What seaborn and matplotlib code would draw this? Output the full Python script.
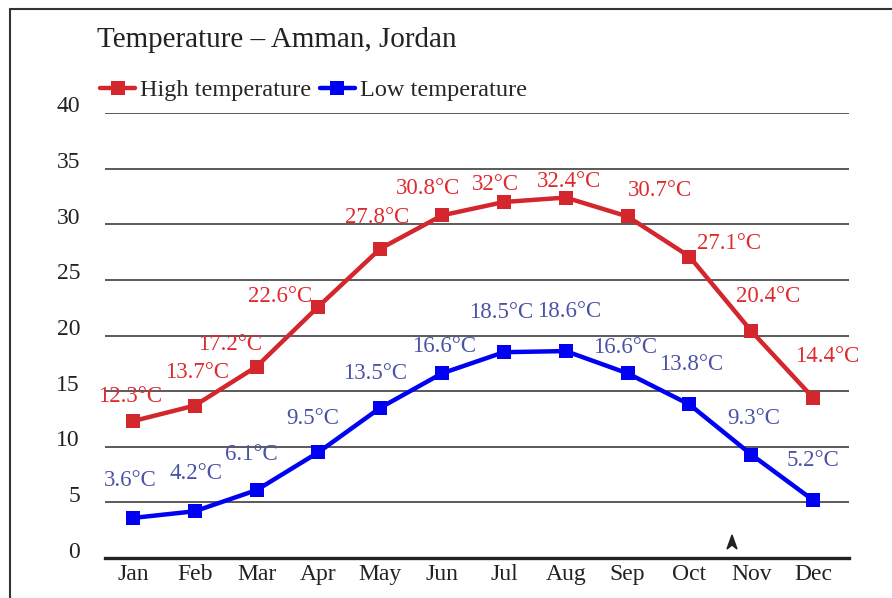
import matplotlib
matplotlib.use("Agg")
import matplotlib.pyplot as plt
import matplotlib.transforms as mtransforms
import seaborn as sns
import pandas as pd
from matplotlib.lines import Line2D
from matplotlib.patches import Polygon

# ---- data ----
months = ["Jan", "Feb", "Mar", "Apr", "May", "Jun", "Jul", "Aug", "Sep", "Oct", "Nov", "Dec"]
high_temp = [12.3, 13.7, 17.2, 22.6, 27.8, 30.8, 32.0, 32.4, 30.7, 27.1, 20.4, 14.4]
low_temp = [3.6, 4.2, 6.1, 9.5, 13.5, 16.6, 18.5, 18.6, 16.6, 13.8, 9.3, 5.2]
high_labels = ["12.3°C", "13.7°C", "17.2°C", "22.6°C", "27.8°C", "30.8°C", "32°C", "32.4°C",
               "30.7°C", "27.1°C", "20.4°C", "14.4°C"]
low_labels = ["3.6°C", "4.2°C", "6.1°C", "9.5°C", "13.5°C", "16.6°C", "18.5°C", "18.6°C",
              "16.6°C", "13.8°C", "9.3°C", "5.2°C"]
series_names = ["High temperature", "Low temperature"]
y_ticks = [0, 5, 10, 15, 20, 25, 30, 35, 40]
title = "Temperature – Amman, Jordan"

# ---- label offsets (pixels, from point to label centre) ----
high_off = [(-3, 25), (2, 33), (-26, 22), (-38, 10), (-3, 31), (-14, 27), (-9, 18), (3, 16),
            (32, 26), (40, 13), (17, 35), (14, 41)]
low_off = [(-3, 37), (1, 38), (-5, 36), (-6, 34), (-5, 34), (2, 27), (-3, 40), (3, 40),
           (-3, 26), (2, 40), (2, 36), (0, 40)]

df = pd.DataFrame({
    "x": list(range(len(months))) * 2,
    "temp": high_temp + low_temp,
    "series": [series_names[0]] * len(months) + [series_names[1]] * len(months),
})

sns.set_theme(style="white")
plt.rcParams["font.family"] = ["Liberation Serif", "DejaVu Serif"]

W, H = 892, 598
fig = plt.figure(figsize=(W / 100, H / 100), dpi=100)
ax = fig.add_axes([105 / W, (H - 558) / H, 744 / W, 445 / H])

red = "#d3262d"
blue = "#0000f2"
red_txt = "#df2a2e"
blue_txt = "#4a52a6"

sns.lineplot(data=df, x="x", y="temp", hue="series", palette=[red, blue],
             style="series", markers=["s", "s"], dashes=False, markersize=10,
             markeredgewidth=0, linewidth=3.2, ax=ax, legend=True)

ax.set_xlim(-0.45, 11.58)
ax.set_ylim(0, 40)
ax.set_yticks(y_ticks)
ax.set_xticks(range(len(months)))
ax.set_xticklabels(months)
ax.set_xlabel("")
ax.set_ylabel("")
for s in ["top", "right", "left"]:
    ax.spines[s].set_visible(False)
ax.spines["bottom"].set_color("#222222")
ax.spines["bottom"].set_linewidth(2.4)
ax.tick_params(axis="both", length=0, labelsize=17, colors="#222222")
ax.tick_params(axis="y", pad=18)
ax.tick_params(axis="x", pad=4)
shift = mtransforms.ScaledTranslation(0, 6 / 100, fig.dpi_scale_trans)
for lab in ax.get_yticklabels():
    lab.set_verticalalignment("center")
    lab.set_transform(lab.get_transform() + shift)
for yv in y_ticks[1:]:
    ax.axhline(yv, color="#4d4d4d", linewidth=1.3, zorder=0)

for i in range(len(months)):
    ax.annotate(high_labels[i], xy=(i, high_temp[i]), xytext=high_off[i],
                textcoords="offset pixels", ha="center", va="center",
                fontsize=16.5, color=red_txt)
    ax.annotate(low_labels[i], xy=(i, low_temp[i]), xytext=low_off[i],
                textcoords="offset pixels", ha="center", va="center",
                fontsize=16.5, color=blue_txt)

handles, labels = ax.get_legend_handles_labels()
ax.legend(handles, labels, loc="center left", bbox_to_anchor=(100 / W, 1 - 90 / H),
          bbox_transform=fig.transFigure, ncol=2, frameon=False, fontsize=17.5,
          handlelength=1.45, handletextpad=0.2, columnspacing=0.35, borderaxespad=0,
          borderpad=0)

fig.text(97 / W, 1 - 40 / H, title, fontsize=21, color="#222222", ha="left", va="center")

# frame lines
fig.add_artist(Line2D([10 / W, 1], [1 - 9 / H, 1 - 9 / H], transform=fig.transFigure,
                      color="#333333", linewidth=1.5))
fig.add_artist(Line2D([10 / W, 10 / W], [0, 1 - 9 / H], transform=fig.transFigure,
                      color="#333333", linewidth=1.5))
# small arrowhead artifact
pts = [(732, 535), (727, 549), (732, 545), (737, 549)]
fig.add_artist(Polygon([(px / W, 1 - py / H) for px, py in pts], closed=True,
                       transform=fig.transFigure, color="#222222"))

fig.savefig("out.png", dpi=100)
